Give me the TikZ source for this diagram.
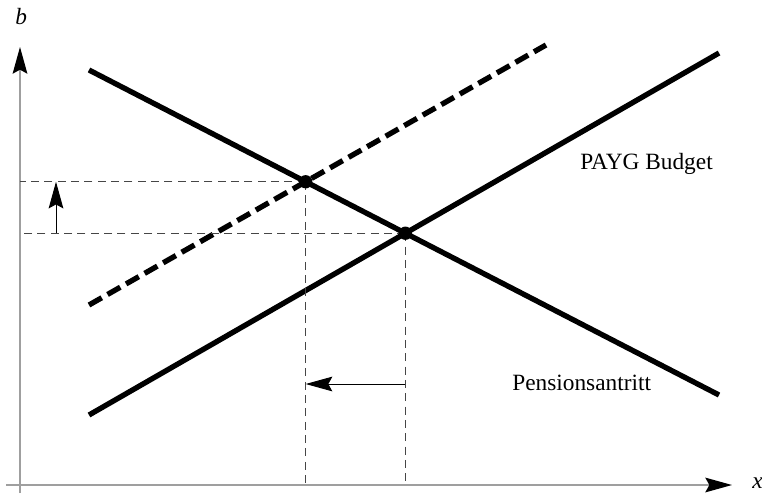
\documentclass[tikz,border=0pt]{standalone}
\usepackage{fontspec}
\setmainfont{Liberation Serif}
\usetikzlibrary{arrows.meta, calc}

\begin{document}
\begin{tikzpicture}[
    x=0.75pt, y=-0.75pt,
    font=\fontsize{17.5}{21}\selectfont,
    axis/.style={
        draw=gray!75, line width=1.1pt,
        -{Stealth[length=20pt, width=11pt, inset=3pt, color=black]},
    },
    curve/.style={line width=4pt, draw=black},
    guide/.style={
        draw=gray!55!black, line width=0.9pt,
        dash pattern=on 6pt off 4pt,
    },
    shiftarrow/.style={
        draw=black, line width=0.75pt,
        -{Stealth[length=20pt, width=11pt, inset=3pt]},
    },
    dot/.style={circle, fill=black, inner sep=0pt, minimum size=10pt},
]
\useasboundingbox (0,0) rectangle (762,493);

% =============== Axes ===============
\coordinate (ybot) at (20,493);
\coordinate (ytop) at (20,47);
\coordinate (xlft) at (6,485);
\coordinate (xrgt) at (732,485);
\draw[axis] (ybot) -- (ytop);
\draw[axis] (xlft) -- (xrgt);
\node[anchor=base west, inner sep=0pt] (blab) at (15,24) {\textit{b}};
\node[anchor=base west, inner sep=0pt] (xlab) at (752,488) {\textit{x}};

% =============== Curves ===============
\coordinate (bud1) at (89,70);
\coordinate (bud2) at (719,395);
\coordinate (ret1) at (89,415);
\coordinate (ret2) at (719,53);
\coordinate (new1) at (89,305);
\coordinate (new2) at (546,45);
\draw[curve] (bud1) -- (bud2);
\draw[curve] (ret1) -- (ret2);
\draw[curve, dash pattern=on 11pt off 5pt] (new1) -- (new2);

% intersections (old and new equilibrium)
\coordinate (E0) at (intersection of bud1--bud2 and ret1--ret2);
\coordinate (E1) at (intersection of bud1--bud2 and new1--new2);

% =============== Guide lines ===============
\draw[guide] (E1) -- (E1 -| ybot);
\draw[guide] (E0) -- (E0 -| ybot);
\draw[guide] (E1) -- (E1 |- xlft);
\draw[guide] (E0) -- (E0 |- xlft);

% =============== Shift arrows ===============
\coordinate (up1) at (56,0 |- E0);
\coordinate (up2) at (56,0 |- E1);
\draw[shiftarrow] (up1) -- (up2);
\coordinate (lf1) at (E0 |- 0,384);
\coordinate (lf2) at (E1 |- 0,384);
\draw[shiftarrow] (lf1) -- (lf2);

\node[dot] (d0) at (E0) {};
\node[dot] (d1) at (E1) {};

% =============== Labels ===============
\node[anchor=base west, inner sep=0pt] (payg) at (580,169) {PAYG Budget};
\node[anchor=base west, inner sep=0pt] (pens) at (512,390) {Pensionsantritt};

\end{tikzpicture}
\end{document}
